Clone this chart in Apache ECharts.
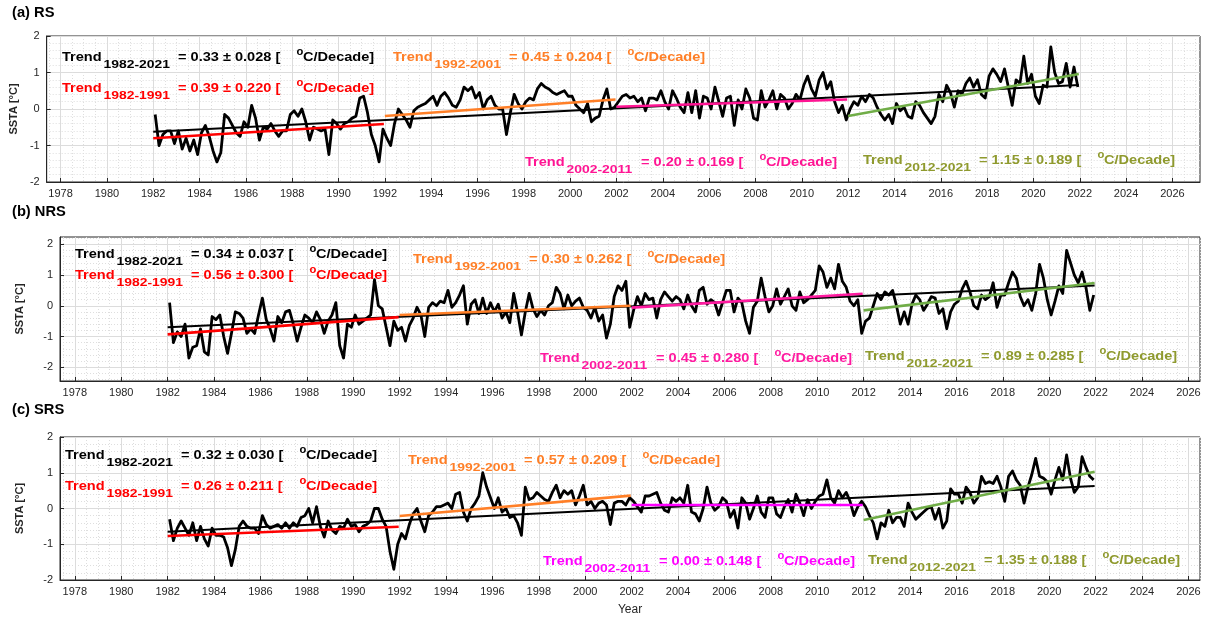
<!DOCTYPE html>
<html>
<head>
<meta charset="utf-8">
<script src="https://cdn.jsdelivr.net/npm/echarts@6.0.0/dist/echarts.min.js"></script>
<style>
  html, body { margin: 0; padding: 0; background: #fff; }
  #chart { width: 1210px; height: 620px; }
</style>
</head>
<body>
<div id="chart"></div>
<script>
// tick labels
var yearTicks = [1978, 1980, 1982, 1984, 1986, 1988, 1990, 1992, 1994, 1996, 1998, 2000,
  2002, 2004, 2006, 2008, 2010, 2012, 2014, 2016, 2018, 2020, 2022, 2024, 2026];
var sstaTicks = [-2, -1, 0, 1, 2];

// SSTA, two-monthly steps from Jan 1982 to Dec 2021
var rsSSTA = [
  -0.15, -1.0, -0.7, -0.6, -0.6, -0.95,  -0.6, -1.1, -0.8, -1.15, -0.85, -1.25,
  -0.65, -0.45, -0.75, -1.15, -1.45, -1.2,  -0.15, -0.25, -0.45, -0.65, -0.75, -0.35,
  -0.5, 0.1, -0.25, -0.85, -0.5, -0.55,  -0.4, -0.6, -0.75, -0.6, -0.6, -0.15,
  -0.05, -0.2, 0.0, -0.35, -0.85, -0.5,  -0.55, -0.6, -0.55, -1.25, -0.3, -0.4,
  -0.55, -0.4, -0.35, -0.25, -0.2, 0.3,  0.35, -0.1, -0.7, -1.0, -1.45, -0.55,
  -0.8, -1.0, -0.4, 0.0, -0.15, -0.3,  -0.5, -0.05, 0.05, 0.1, 0.15, 0.25,
  0.35, 0.1, 0.35, 0.45, 0.3, 0.1,  0.05, 0.25, 0.6, 0.5, 0.6, 0.3,
  0.45, 0.0, 0.25, 0.35, 0.1, 0.0,  0.0, -0.7, -0.1, 0.4, 0.15, 0.0,
  0.2, 0.3, 0.25, 0.55, 0.7, 0.6,  0.55, 0.45, 0.4, 0.45, 0.5, 0.35,
  0.35, 0.1, 0.0, -0.1, 0.15, -0.35,  -0.25, -0.2, 0.25, 0.55, 0.0, 0.05,
  0.2, 0.35, 0.4, 0.3, 0.35, 0.2,  0.3, -0.05, 0.3, 0.3, 0.25, 0.5,
  0.2, 0.0, 0.5, 0.3, 0.05, -0.1,  0.45, -0.1, 0.5, -0.25, 0.35, 0.3,
  0.0, 0.6, 0.2, -0.2, 0.3, 0.35,  -0.45, 0.25, 0.0, 0.55, 0.3, -0.25,
  -0.3, 0.5, 0.05, 0.25, 0.5, 0.0,  0.4, 0.3, 0.0, 0.15, 0.4, 0.25,
  0.65, 0.9, 0.55, 0.35, 0.8, 1.0,  0.55, 0.75, 0.2, -0.1, 0.1, -0.3,
  0.0, 0.2, 0.1, 0.35, 0.2, 0.4,  0.3, 0.05, -0.15, -0.3, -0.15, -0.4,
  0.15, -0.05, 0.05, -0.2, -0.25, 0.2,  0.1, -0.1, -0.25, -0.4, -0.2, 0.4,
  0.2, 0.65, 0.45, 0.05, 0.5, 0.4,  0.7, 0.85, 0.6, 0.8, 0.4, 0.3,
  0.9, 1.1, 0.95, 0.75, 1.1, 0.6,  0.1, 0.8, 0.7, 1.45, 0.7, 0.95,
  0.35, 0.15, 0.65, 0.6, 1.7, 1.0,  0.7, 0.75, 1.25, 0.6, 1.15, 0.6
];
var nrsSSTA = [
  0.1, -1.2, -0.85, -1.0, -0.6, -1.7,  -1.35, -1.3, -0.75, -1.5, -1.6, -0.35,
  -0.45, -0.3, -1.0, -1.55, -0.9, -0.2,  -0.25, -0.4, -0.9, -0.75, -0.9, -0.3,
  0.25, -0.45, -0.75, -1.15, -0.35, -0.55,  -0.2, -0.15, -0.6, -1.15, -0.7, -0.3,
  -0.4, -0.55, -0.2, -0.45, -0.9, -0.5,  -0.3, 0.1, -1.3, -1.7, -0.6, -0.7,
  -0.3, -0.6, -0.5, -0.4, -0.3, 0.85,  0.0, -0.1, -0.7, -1.3, -0.5, -0.8,
  -0.7, -1.15, -0.65, -0.4, -0.05, -0.3,  -1.0, -0.05, 0.1, 0.0, 0.15, 0.1,
  0.5, -0.05, 0.1, 0.35, 0.65, -0.6,  0.05, 0.2, -0.25, 0.25, -0.25, 0.1,
  -0.2, 0.05, -0.4, -0.2, -0.55, 0.4,  -0.2, -0.95, -0.2, 0.4, -0.1, -0.35,
  -0.15, -0.3, 0.0, 0.1, 0.6, 0.4,  -0.1, 0.35, 0.0, 0.15, 0.25, -0.05,
  -0.15, -0.4, -0.05, -0.5, -0.3, -1.05,  -0.6, 0.3, 0.65, 0.5, 0.8, -0.7,
  -0.15, 0.3, 0.0, 0.4, 0.2, 0.25,  -0.4, 0.2, 0.45, 0.3, 0.15, 0.3,
  0.2, -0.1, 0.35, 0.0, -0.2, 0.5,  0.6, 0.05, 0.2, 0.1, -0.3, 0.1,
  0.5, 0.5, -0.2, 0.25, 0.1, -0.5,  -0.9, -0.05, 0.15, 0.9, 0.3, -0.2,
  0.0, 0.55, 0.05, 0.3, 0.55, 0.0,  -0.15, 0.45, 0.1, 0.2, 0.35, 0.5,
  1.3, 1.1, 0.6, 0.9, 0.55, 1.35,  0.8, 0.6, 0.15, 0.0, 0.2, -0.9,
  -0.5, -0.4, 0.0, 0.4, 0.2, 0.45,  0.35, 0.5, 0.0, -0.6, -0.2, -0.6,
  0.05, 0.35, 0.2, -0.15, 0.05, 0.3,  0.25, -0.25, -0.1, -0.75, -0.2, 0.05,
  0.15, 0.55, 0.8, 0.45, 0.0, -0.1,  0.35, 0.2, 0.3, 0.75, -0.05, 0.35,
  0.35, 0.75, 1.1, 0.9, 0.3, 0.0,  0.2, -0.15, 0.4, 1.35, 0.9, 0.2,
  -0.3, 0.15, 0.65, 0.4, 1.8, 1.4,  1.0, 0.75, 1.1, 0.6, -0.15, 0.35
];
var srsSSTA = [
  -0.3, -0.9, -0.55, -0.35, -0.55, -0.75,  -0.4, -0.9, -0.5, -0.85, -1.05, -0.55,
  -0.75, -0.75, -0.8, -1.1, -1.6, -1.15,  -0.5, -0.35, -0.5, -0.55, -0.55, -0.7,
  -0.2, -0.45, -0.55, -0.5, -0.45, -0.55,  -0.4, -0.55, -0.4, -0.5, -0.25, -0.2,
  0.0, -0.4, 0.05, -0.5, -0.8, -0.35,  -0.6, -0.7, -0.5, -0.55, -0.3, -0.5,
  -0.45, -0.65, -0.5, -0.45, -0.35, 0.0,  0.0, -0.3, -0.5, -1.2, -1.7, -1.0,
  -0.7, -0.85, -0.45, -0.15, 0.0, -0.35,  -0.65, -0.2, -0.1, 0.05, 0.05, 0.1,
  0.15, 0.0, 0.4, 0.45, -0.1, -0.35,  0.0, 0.15, 0.35, 1.0, 0.6, 0.3,
  0.0, 0.3, -0.1, 0.0, -0.25, -0.2,  -0.4, -0.75, 0.6, 0.25, 0.3, 0.45,
  0.35, 0.25, 0.2, 0.45, 0.65, 0.3,  0.5, 0.4, 0.5, 0.1, 0.35, 0.65,
  0.1, 0.2, 0.0, 0.15, 0.2, 0.1,  -0.45, 0.15, 0.2, 0.2, 0.1, 0.3,
  0.2, 0.05, -0.1, 0.35, 0.35, 0.4,  0.45, 0.15, -0.05, -0.1, 0.3, 0.2,
  0.3, 0.15, 0.65, -0.1, -0.15, -0.35,  0.0, 0.6, 0.15, -0.05, 0.05, 0.3,
  0.2, -0.25, -0.05, -0.55, 0.3, 0.15,  -0.3, 0.0, 0.35, -0.1, -0.25, 0.3,
  0.3, -0.15, -0.25, 0.05, 0.25, -0.1,  0.4, 0.15, -0.2, 0.25, 0.0, 0.2,
  0.35, 0.4, 0.8, 0.3, 0.15, 0.5,  0.3, 0.45, 0.2, -0.2, 0.05, 0.2,
  0.05, -0.2, -0.4, -0.85, -0.4, -0.5,  -0.05, -0.4, -0.25, -0.25, -0.5, 0.15,
  -0.1, -0.3, -0.2, -0.1, 0.0, 0.05,  -0.3, 0.0, -0.55, -0.35, 0.55, 0.4,
  0.4, 0.15, 0.6, 0.45, 0.15, 0.3,  0.9, 0.7, 0.75, 0.7, 0.9, 0.6,
  0.2, 0.9, 1.05, 0.8, 0.65, 0.15,  0.6, 0.95, 1.4, 0.9, 0.85, 0.75,
  0.4, 0.8, 1.15, 0.8, 1.5, 0.85,  0.45, 0.6, 1.45, 1.15, 0.9, 0.8
];

// trend periods and the trend lines' start / end values
var trendPeriods = [[1982, 2022], [1982, 1992], [1992, 2002], [2002, 2012], [2012, 2022]];
var trendNames = ['1982-2021', '1982-1991', '1992-2001', '2002-2011', '2012-2021'];
var rsTrendEnds = [[-0.62, 0.66], [-0.80, -0.41], [-0.19, 0.26], [0.06, 0.26], [-0.19, 0.96]];
var nrsTrendEnds = [[-0.70, 0.66], [-0.93, -0.37], [-0.30, 0.00], [-0.06, 0.39], [-0.15, 0.74]];
var srsTrendEnds = [[-0.65, 0.63], [-0.77, -0.51], [-0.21, 0.36], [0.10, 0.10], [-0.32, 1.03]];
var rsRates = ['0.33 ± 0.028', '0.39 ± 0.220', '0.45 ± 0.204', '0.20 ± 0.169', '1.15 ± 0.189'];
var nrsRates = ['0.34 ± 0.037', '0.56 ± 0.300', '0.30 ± 0.262', '0.45 ± 0.280', '0.89 ± 0.285'];
var srsRates = ['0.32 ± 0.030', '0.26 ± 0.211', '0.57 ± 0.209', '0.00 ± 0.148', '1.35 ± 0.188'];

var FONT = '"Liberation Sans", Arial, sans-serif';
var AXIS = '#262626';

var panels = [
  { title: '(a) RS', titleY: 13, values: rsSSTA, ends: rsTrendEnds, rates: rsRates,
    left: 45, top: 36, width: 1155, height: 146, xMin: 1977.4, xMax: 2027.19, yMin: -2, yMax: 2,
    nameGap: 21, magenta: '#ff1493', labelPos: [[62, 57], [62, 88], [393, 57], [525, 162], [863, 160]] },
  { title: '(b) NRS', titleY: 212, values: nrsSSTA, ends: nrsTrendEnds, rates: nrsRates,
    left: 60, top: 237, width: 1140, height: 144, xMin: 1977.36, xMax: 2026.5, yMin: -2.45, yMax: 2.24,
    nameGap: 35, magenta: '#ff1aa0', labelPos: [[75, 254], [75, 275], [413, 259], [540, 358], [865, 356]] },
  { title: '(c) SRS', titleY: 410, values: srsSSTA, ends: srsTrendEnds, rates: srsRates,
    left: 60, top: 437, width: 1140, height: 143, xMin: 1977.36, xMax: 2026.5, yMin: -2, yMax: 2,
    nameGap: 35, magenta: '#ff00ff', labelPos: [[65, 455], [65, 486], [408, 460], [543, 561], [868, 560]] }
];

function minorValues(min, max, step, majorStep) {
  var out = [];
  var v = Math.ceil(min / step) * step;
  for (; v <= max + 1e-9; v += step) {
    var r = Math.round(v * 100) / 100;
    if (Math.abs(r / majorStep - Math.round(r / majorStep)) > 1e-6) out.push(r);
  }
  return out;
}

function trendLabel(x, y, period, rate, color) {
  function t(dx, dy, text, size, sx) {
    return {
      type: 'text', x: x + dx, y: y + dy, scaleX: sx, silent: true, z: 100,
      style: { text: text, fill: color, font: 'bold ' + size + 'px ' + FONT,
               textVerticalAlign: 'middle', verticalAlign: 'middle' }
    };
  }
  return [
    t(0, 0, 'Trend', 13, 1.12),
    t(41.5, 8.5, period, 10, 1.39),
    t(116, 0, '= ' + rate + ' [', 13, 1.12),
    t(234.4, -4.5, 'o', 10, 1.12),
    t(241, 0, 'C/Decade]', 13, 1.12)
  ];
}

var grids = [], xAxes = [], yAxes = [], series = [], graphics = [];

panels.forEach(function (p, k) {
  var lineColors = ['#000000', '#ff0000', '#ff7f27', p.magenta, '#70ad47'];
  var textColors = ['#000000', '#ff0000', '#ff7f27', p.magenta, '#8f9a2e'];

  grids.push({ left: p.left, top: p.top, width: p.width, height: p.height,
    show: true, borderColor: AXIS, borderWidth: 1, backgroundColor: '#fff' });

  xAxes.push({
    gridIndex: k, type: 'value', min: p.xMin, max: p.xMax,
    name: k === 2 ? 'Year' : '', nameLocation: 'middle', nameGap: 24,
    nameTextStyle: { fontSize: 12, color: AXIS, fontFamily: FONT },
    axisLine: { show: true, onZero: false, lineStyle: { color: AXIS, width: 1 } },
    axisTick: { customValues: yearTicks, inside: true, length: 4, lineStyle: { color: AXIS } },
    axisLabel: { customValues: yearTicks, fontSize: 11, color: AXIS, fontFamily: FONT, margin: 6,
                 formatter: function (v) { return '' + v; } },
    splitLine: { show: true, lineStyle: { color: '#dcdcdc', width: 1 } }
  });
  xAxes.push({
    gridIndex: k, type: 'value', min: p.xMin, max: p.xMax,
    axisLine: { show: false }, axisLabel: { show: false },
    axisTick: { show: false, customValues: minorValues(p.xMin, p.xMax, 0.5, 2) },
    splitLine: { show: true, lineStyle: { color: '#dedede', width: 1, type: [1, 2] } }
  });

  yAxes.push({
    gridIndex: k, type: 'value', min: p.yMin, max: p.yMax,
    name: 'SSTA [°C]', nameLocation: 'middle', nameRotate: 90, nameGap: p.nameGap,
    nameTextStyle: { fontSize: 11, color: AXIS, fontFamily: FONT, fontWeight: 'bold' },
    axisLine: { show: true, onZero: false, lineStyle: { color: AXIS, width: 1 } },
    axisTick: { customValues: sstaTicks, inside: true, length: 4, lineStyle: { color: AXIS } },
    axisLabel: { customValues: sstaTicks, fontSize: 11, color: AXIS, fontFamily: FONT, margin: 7 },
    splitLine: { show: true, lineStyle: { color: '#dcdcdc', width: 1 } }
  });
  yAxes.push({
    gridIndex: k, type: 'value', min: p.yMin, max: p.yMax,
    axisLine: { show: false }, axisLabel: { show: false },
    axisTick: { show: false, customValues: minorValues(p.yMin, p.yMax, 0.2, 1) },
    splitLine: { show: true, lineStyle: { color: '#dedede', width: 1, type: [1, 2] } }
  });

  series.push({
    type: 'line', xAxisIndex: 2 * k, yAxisIndex: 2 * k, silent: true, z: 3,
    symbol: 'none', lineStyle: { color: '#000', width: 2.8, join: 'round' },
    data: p.values.map(function (v, i) { return [1982 + (i + 0.5) / 6, v]; })
  });
  trendPeriods.forEach(function (per, j) {
    series.push({
      type: 'line', xAxisIndex: 2 * k, yAxisIndex: 2 * k, silent: true, z: 4 + j,
      symbol: 'none', lineStyle: { color: lineColors[j], width: j === 0 ? 2 : 2.6 },
      data: [[per[0], p.ends[j][0]], [per[1] - 1 / 24, p.ends[j][1]]]
    });
    graphics = graphics.concat(trendLabel(p.labelPos[j][0], p.labelPos[j][1],
      trendNames[j], p.rates[j], textColors[j]));
  });

  graphics.push({
    type: 'text', x: 12, y: p.titleY, scaleX: 1.05, silent: true,
    style: { text: p.title, fill: '#000', font: 'bold 14px ' + FONT,
             textVerticalAlign: 'middle', verticalAlign: 'middle' }
  });
});

var chart = echarts.init(document.getElementById('chart'), null, { renderer: 'canvas' });
chart.setOption({
  backgroundColor: '#fff',
  animation: false,
  grid: grids,
  xAxis: xAxes,
  yAxis: yAxes,
  series: series,
  graphic: { elements: graphics }
});
</script>
</body>
</html>
